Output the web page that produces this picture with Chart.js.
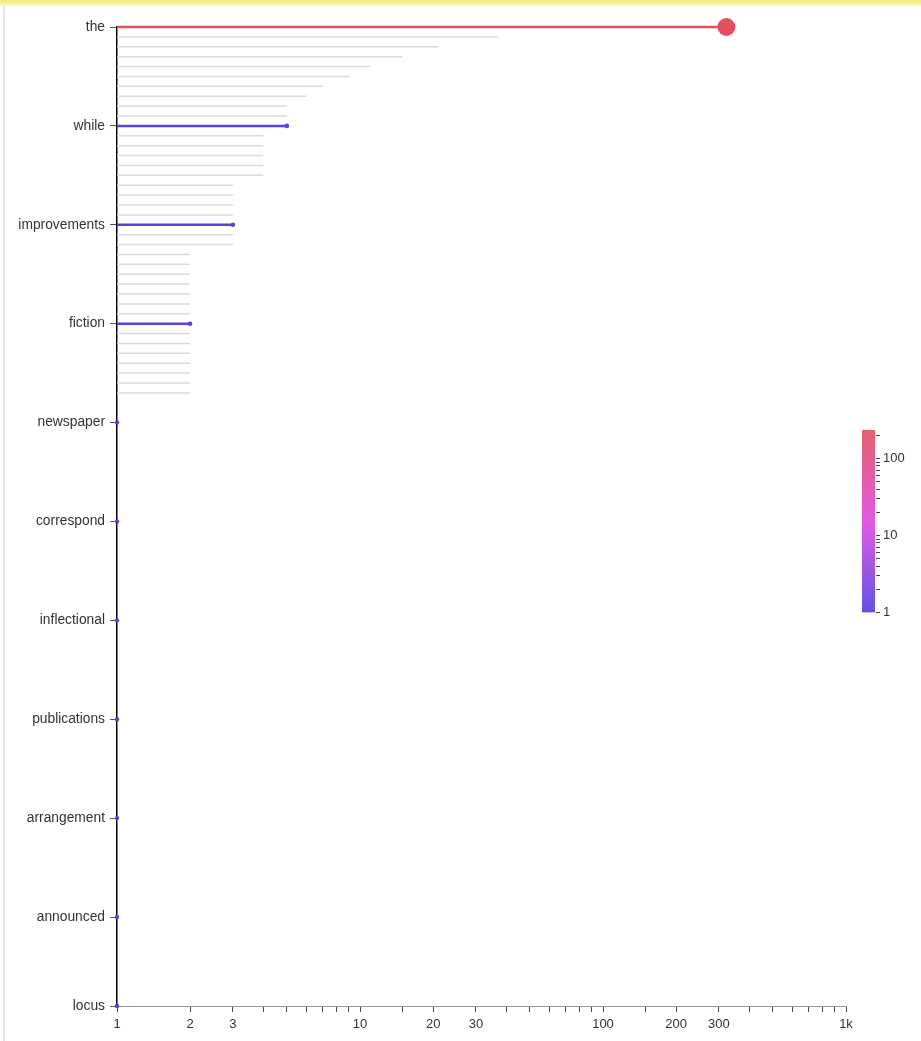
<!DOCTYPE html>
<html>
<head>
<meta charset="utf-8">
<script src="https://cdn.jsdelivr.net/npm/chart.js@4.4.1/dist/chart.umd.min.js"></script>
<style>
  html, body { margin: 0; padding: 0; background: #fff; }
  #wrap { position: relative; width: 921px; height: 1041px; }
  #topband { position: absolute; left: 0; top: 0; width: 921px; height: 6px;
    background: linear-gradient(#f3e878, #f8f0a4 65%, #fdfbe4); }
  #leftline { position: absolute; left: 3px; top: 6px; width: 2px; height: 1035px; background: #e8e8e8; }
  canvas { position: absolute; left: 0; top: 0; }
</style>
</head>
<body>
<div id="wrap">
  <canvas id="c" width="921" height="1041"></canvas>
  <div id="topband"></div>
  <div id="leftline"></div>
</div>
<script>
// ---- data ----
const shownWords = ['the','while','improvements','fiction','newspaper','correspond','inflectional','publications','arrangement','announced','locus'];
const shownRanks = [0, 10, 20, 30, 40, 50, 60, 70, 80, 90, 99];
const counts = [
  322, 37, 21, 15, 11, 9, 7, 6, 5, 5,
  5, 4, 4, 4, 4, 4, 3, 3, 3, 3,
  3, 3, 3, 2, 2, 2, 2, 2, 2, 2,
  2, 2, 2, 2, 2, 2, 2, 2, 1, 1,
  1, 1, 1, 1, 1, 1, 1, 1, 1, 1,
  1, 1, 1, 1, 1, 1, 1, 1, 1, 1,
  1, 1, 1, 1, 1, 1, 1, 1, 1, 1,
  1, 1, 1, 1, 1, 1, 1, 1, 1, 1,
  1, 1, 1, 1, 1, 1, 1, 1, 1, 1,
  1, 1, 1, 1, 1, 1, 1, 1, 1, 1
];
const xTickLabels = { 1: '1', 2: '2', 3: '3', 10: '10', 20: '20', 30: '30', 100: '100', 200: '200', 300: '300', 1000: '1k' };
const colorTicks = [1, 10, 100];
const colorMax = 230;

// categories (rank positions); only shown ranks carry visible words
const categories = counts.map((_, i) => {
  const k = shownRanks.indexOf(i);
  return k >= 0 ? shownWords[k] : '#' + (i + 1);
});

function hslAt(t) {
  t = Math.max(0, Math.min(1, t));
  const h = 246 + (354 - 246) * t;
  const s = 72;
  const l = 57 + (60 - 57) * t;
  return `hsl(${h},${s}%,${l}%)`;
}
// colour bar: log-sampled
function barColor(v) { return hslAt(Math.log10(Math.max(v, 1)) / Math.log10(colorMax)); }
const vmax = Math.max(...counts);
// marks: coloured by count
function markColor(v) { return hslAt((v - 1) / (vmax - 1)); }
function radiusFor(v) { return 2.2 + 6.8 * (v - 1) / (vmax - 1); }

const isShown = i => shownRanks.includes(i);

const greyBars = counts.map((v, i) => isShown(i) ? null : [1, v]);
const colorBars = counts.map((v, i) => isShown(i) ? [1, v] : null);
const dots = shownRanks.map(i => ({ x: counts[i], y: categories[i] }));

const colorbarPlugin = {
  id: 'colorbar',
  afterDraw(chart) {
    const ctx = chart.ctx;
    const x0 = 862, w = 13, yBottom = 612, perDecade = 77;
    const pos = v => yBottom - perDecade * Math.log10(v);
    const yTop = pos(colorMax);
    ctx.save();
    for (let y = yTop; y < yBottom; y += 1) {
      const v = Math.pow(10, (yBottom - y - 0.5) / perDecade);
      ctx.fillStyle = barColor(v);
      ctx.fillRect(x0, y, w, 1.2);
    }
    ctx.strokeStyle = '#444';
    ctx.lineWidth = 1;
    const minor = [];
    for (let d = 1; d <= 100; d *= 10) for (let m = 1; m <= 9; m++) { const v = m * d; if (v <= colorMax) minor.push(v); }
    minor.forEach(v => {
      const y = Math.round(pos(v)) + 0.5;
      ctx.beginPath(); ctx.moveTo(x0 + w + 1, y); ctx.lineTo(x0 + w + 5, y); ctx.stroke();
    });
    ctx.fillStyle = '#333';
    ctx.font = '13px "Liberation Sans", Arial, sans-serif';
    ctx.textBaseline = 'middle';
    ctx.textAlign = 'left';
    colorTicks.forEach(v => ctx.fillText(String(v), x0 + w + 8, pos(v)));
    ctx.restore();
  }
};

new Chart(document.getElementById('c'), {
  type: 'bar',
  data: {
    labels: categories,
    datasets: [
      {
        type: 'scatter',
        data: dots,
        pointRadius: ctx => radiusFor(ctx.raw ? ctx.raw.x : 1),
        pointBackgroundColor: ctx => markColor(ctx.raw ? ctx.raw.x : 1),
        pointBorderWidth: 0,
        clip: false,
        order: 0
      },
      {
        data: colorBars,
        backgroundColor: ctx => {
          const r = ctx.raw; return markColor(r ? r[1] : 1);
        },
        barThickness: 2.5,
        inflateAmount: 0,
        grouped: false,
        clip: false,
        order: 1
      },
      {
        data: greyBars,
        backgroundColor: '#dadada',
        barThickness: 1.5,
        inflateAmount: 0,
        grouped: false,
        clip: false,
        order: 2
      }
    ]
  },
  options: {
    indexAxis: 'y',
    responsive: false,
    animation: false,
    events: [],
    layout: { padding: { top: 27, right: 75, bottom: 0, left: 0 } },
    plugins: { legend: { display: false }, tooltip: { enabled: false } },
    scales: {
      x: {
        type: 'logarithmic',
        position: 'bottom',
        min: 1, max: 1000,
        grid: { drawOnChartArea: false, tickLength: 6, color: '#444', lineWidth: 1 },
        border: { color: '#999', width: 1 },
        ticks: {
          autoSkip: false, maxRotation: 0, color: '#333', padding: 5,
          font: { family: '"Liberation Sans", Arial, sans-serif', size: 13 },
          callback: v => xTickLabels[v] !== undefined ? xTickLabels[v] : ''
        },
        afterFit: s => { s.height = 35; }
      },
      y: {
        type: 'category',
        offset: false,
        grid: {
          offset: false,
          drawOnChartArea: false, tickLength: 7, lineWidth: 1,
          color: ctx => isShown(ctx.index) ? '#555' : 'rgba(0,0,0,0)'
        },
        border: { color: '#000', width: 1.5 },
        ticks: {
          autoSkip: false, color: '#333', padding: 5,
          font: { family: '"Liberation Sans", Arial, sans-serif', size: 13.8 },
          callback: (v, i) => isShown(i) ? categories[i] : ''
        },
        afterFit: s => { s.width = 117; }
      }
    }
  },
  plugins: [colorbarPlugin]
});
</script>
</body>
</html>
